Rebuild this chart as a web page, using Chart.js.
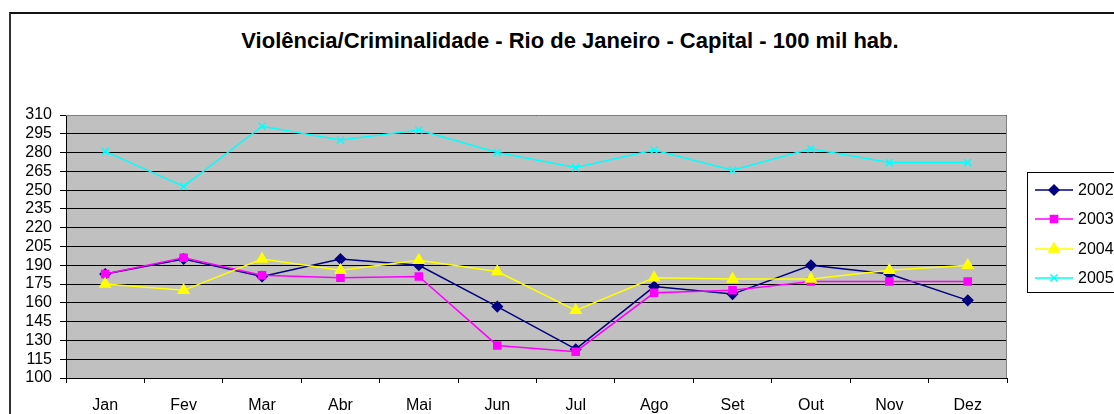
<!DOCTYPE html>
<html>
<head>
<meta charset="utf-8">
<script src="https://cdn.jsdelivr.net/npm/chart.js@4/dist/chart.umd.min.js"></script>
<style>
  html, body { margin:0; padding:0; background:#fff; overflow:hidden; }
  #wrap { position:relative; width:1114px; height:414px; }
  #frame { position:absolute; left:9px; top:12px; width:1200px; height:500px; border-left:2px solid #333; border-top:2px solid #111; box-sizing:border-box; }
  #title { position:absolute; left:0; top:28px; width:1140px; text-align:center; font-family:"Liberation Sans", Arial, sans-serif; font-weight:bold; font-size:22px; line-height:26px; color:#000; }
  canvas { position:absolute; left:0; top:0; }
</style>
</head>
<body>
<div id="wrap">
  <div id="frame"></div>
  <div id="title">Violência/Criminalidade - Rio de Janeiro - Capital - 100 mil hab.</div>
  <canvas id="c" width="1114" height="414"></canvas>
</div>
<script>
const months = ["Jan","Fev","Mar","Abr","Mai","Jun","Jul","Ago","Set","Out","Nov","Dez"];
const seriesNames = ["2002","2003","2004","2005"];
const s2002 = [183, 195, 181, 195, 190, 157, 123, 173, 167, 190, 183, 162];
const s2003 = [183, 196, 182, 180, 181, 126, 121, 168, 170, 177, 177, 177];
const s2004 = [175, 170, 195, 186, 194, 185, 154, 180, 179, 179, 186, 190];
const s2005 = [281, 253, 301, 290, 298, 280, 268, 282, 266, 283, 272, 272];
const yMin = 100, yMax = 310, yStep = 15;

const colors = ["#000080", "#FF00FF", "#FFFF00", "#00FFFF"];
const styles = ["rectRot", "rect", "triangle", "crossRot"];
const radii = [5, 5, 6, 5];
const allData = [s2002, s2003, s2004, s2005];

const FONT = '"Liberation Sans", Arial, sans-serif';

const bgPlugin = {
  id: 'bg',
  beforeDraw(chart) {
    const {ctx, chartArea: a} = chart;
    ctx.save();
    ctx.fillStyle = '#C0C0C0';
    ctx.fillRect(a.left, a.top, a.right - a.left, a.bottom - a.top);
    ctx.restore();
  },
  beforeDatasetsDraw(chart) {
    const {ctx, chartArea: a} = chart;
    ctx.save();
    ctx.strokeStyle = '#808080';
    ctx.lineWidth = 1;
    ctx.beginPath();
    ctx.moveTo(a.left, a.top + 0.5);
    ctx.lineTo(a.right - 0.5, a.top + 0.5);
    ctx.lineTo(a.right - 0.5, a.bottom);
    ctx.stroke();
    ctx.restore();
  },
  afterDraw(chart) {
    const ctx = chart.ctx;
    ctx.save();
    ctx.strokeStyle = '#000';
    ctx.lineWidth = 1;
    ctx.strokeRect(1027.5, 172.5, 120, 120);
    const ys = [190, 219, 249, 278];
    ctx.font = '16px ' + FONT;
    ctx.textBaseline = 'middle';
    ctx.textAlign = 'left';
    for (let i = 0; i < 4; i++) {
      const y = ys[i];
      ctx.strokeStyle = colors[i];
      ctx.lineWidth = 1.5;
      ctx.beginPath();
      ctx.moveTo(1035, y);
      ctx.lineTo(1073, y);
      ctx.stroke();
      ctx.fillStyle = colors[i];
      ctx.strokeStyle = colors[i];
      Chart.helpers.drawPoint(ctx, {
        pointStyle: styles[i], radius: radii[i], rotation: 0, borderWidth: 1.5
      }, 1054, y);
      ctx.fillStyle = '#000';
      ctx.fillText(seriesNames[i], 1078, y + 1);
    }
    ctx.restore();
  }
};

const datasets = allData.map((d, i) => ({
  label: seriesNames[i],
  data: d,
  borderColor: colors[i],
  backgroundColor: colors[i],
  borderWidth: 1.5,
  pointStyle: styles[i],
  pointRadius: radii[i],
  pointHoverRadius: radii[i],
  pointBorderColor: colors[i],
  pointBackgroundColor: colors[i],
  pointBorderWidth: 1.5,
  tension: 0,
  fill: false,
  order: 4 - i
}));

new Chart(document.getElementById('c'), {
  type: 'line',
  data: { labels: months, datasets },
  plugins: [bgPlugin],
  options: {
    responsive: false,
    animation: false,
    devicePixelRatio: 1,
    layout: { padding: { left: 0, right: 107, top: 115, bottom: 0 } },
    plugins: { legend: { display: false }, title: { display: false }, tooltip: { enabled: false } },
    scales: {
      x: {
        offset: true,
        grid: { display: true, drawOnChartArea: false, drawTicks: true, tickLength: 5, color: '#000', offset: true },
        border: { display: true, color: '#000', width: 1 },
        ticks: { color: '#000', font: { family: FONT, size: 16 }, padding: 13, maxRotation: 0, autoSkip: false },
        afterFit(s) { s.height = 36; }
      },
      y: {
        min: yMin, max: yMax,
        grid: { color: '#000', lineWidth: 1, tickLength: 6, drawTicks: true },
        border: { display: true, color: '#000', width: 1 },
        ticks: { stepSize: yStep, color: '#000', font: { family: FONT, size: 16 }, padding: 8, autoSkip: false },
        afterFit(s) { s.width = 66; }
      }
    }
  }
});
</script>
</body>
</html>
